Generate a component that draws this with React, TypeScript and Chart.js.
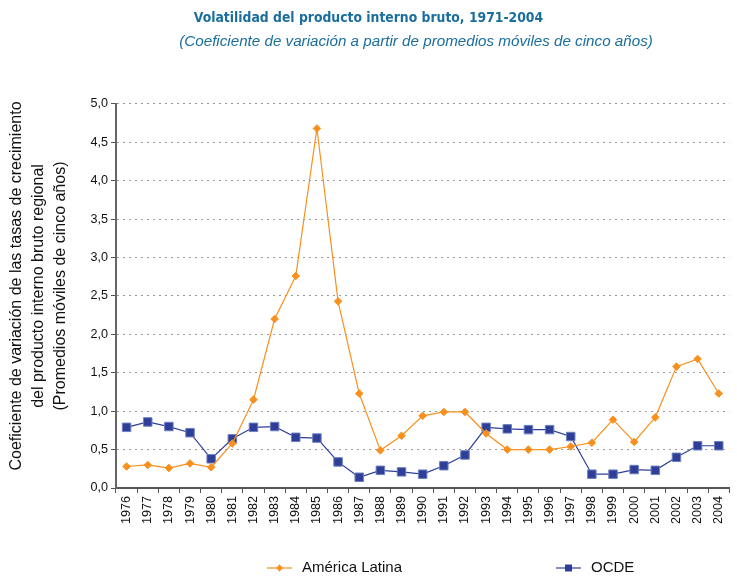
import React, { useEffect, useRef } from "react";
import { Chart, registerables } from "chart.js";

Chart.register(...registerables);

const years = [
  "1976", "1977", "1978", "1979", "1980", "1981", "1982", "1983", "1984", "1985",
  "1986", "1987", "1988", "1989", "1990", "1991", "1992", "1993", "1994", "1995",
  "1996", "1997", "1998", "1999", "2000", "2001", "2002", "2003", "2004",
];

const americaLatina = [
  0.28, 0.30, 0.26, 0.32, 0.27, 0.58, 1.15, 2.20, 2.76, 4.68,
  2.43, 1.23, 0.49, 0.68, 0.94, 0.99, 0.99, 0.71, 0.50, 0.50,
  0.50, 0.54, 0.59, 0.89, 0.60, 0.92, 1.58, 1.68, 1.23,
];

const ocde = [
  0.79, 0.86, 0.80, 0.72, 0.38, 0.64, 0.79, 0.80, 0.66, 0.65,
  0.34, 0.14, 0.23, 0.21, 0.18, 0.29, 0.43, 0.79, 0.77, 0.76,
  0.76, 0.67, 0.18, 0.18, 0.24, 0.23, 0.40, 0.55, 0.55,
];

const titleText = "Volatilidad del producto interno bruto, 1971-2004";
const subtitleText = "(Coeficiente de variación a partir de promedios móviles de cinco años)";
const yTitleLines = [
  "Coeficiente de variación de las tasas de crecimiento",
  "del producto interno bruto regional",
  "(Promedios móviles de cinco años)",
];

const ORANGE = "#F7901E";
const BLUE = "#2E3F98";
const TITLE_COLOR = "#1A6E9E";
const FONT = "'Liberation Sans', Arial, Helvetica, sans-serif";

const textPlugin = {
  id: "customTexts",
  afterDraw(chart: any) {
    const ctx = chart.ctx;
    ctx.save();
    // subtitle
    ctx.fillStyle = TITLE_COLOR;
    ctx.font = `italic 15.2px ${FONT}`;
    ctx.textAlign = "center";
    ctx.textBaseline = "middle";
    ctx.fillText(subtitleText, 416, 42);

    // y-axis title (three rotated lines)
    ctx.fillStyle = "#111";
    ctx.font = `16px ${FONT}`;
    const xs = [17, 39, 60.5];
    yTitleLines.forEach((line, i) => {
      ctx.save();
      ctx.translate(xs[i], 286);
      ctx.rotate(-Math.PI / 2);
      ctx.textAlign = "center";
      ctx.textBaseline = "middle";
      ctx.fillText(line, 0, 0);
      ctx.restore();
    });

    // legend
    const y = 568;
    const items = [
      { label: "América Latina", color: ORANGE, x0: 267, style: "rectRot", r: 3.5 },
      { label: "OCDE", color: BLUE, x0: 556, style: "rect", r: 5 },
    ];
    for (const it of items) {
      ctx.strokeStyle = it.color;
      ctx.lineWidth = 1.2;
      ctx.beginPath();
      ctx.moveTo(it.x0, y);
      ctx.lineTo(it.x0 + 25, y);
      ctx.stroke();
      ctx.fillStyle = it.color;
      const cx = it.x0 + 12.5;
      ctx.beginPath();
      if (it.style === "rect") {
        ctx.rect(cx - 3.5, y - 3.5, 7, 7);
      } else {
        ctx.moveTo(cx, y - it.r);
        ctx.lineTo(cx + it.r, y);
        ctx.lineTo(cx, y + it.r);
        ctx.lineTo(cx - it.r, y);
        ctx.closePath();
      }
      ctx.fill();
      ctx.fillStyle = "#111";
      ctx.font = `15px ${FONT}`;
      ctx.textBaseline = "middle";
      ctx.textAlign = "left";
      ctx.fillText(it.label, it.x0 + 35, y);
    }
    ctx.restore();
  },
};

export default function App() {
  const canvasRef = useRef<HTMLCanvasElement | null>(null);

  useEffect(() => {
    document.body.style.margin = "0";
    const canvas = canvasRef.current;
    if (!canvas) return;
    const chart = new Chart(canvas, {
      type: "line",
      data: {
        labels: years,
        datasets: [
          {
            label: "América Latina",
            data: americaLatina,
            borderColor: ORANGE,
            backgroundColor: ORANGE,
            borderWidth: 1.2,
            pointStyle: "rectRot",
            pointRadius: 3.8,
            pointBorderWidth: 1,
            pointBorderColor: ORANGE,
            pointBackgroundColor: ORANGE,
            tension: 0,
          },
          {
            label: "OCDE",
            data: ocde,
            borderColor: BLUE,
            backgroundColor: BLUE,
            borderWidth: 1.2,
            pointStyle: "rect",
            pointRadius: 6,
            pointBorderWidth: 1,
            pointBorderColor: "#6F7FC0",
            pointBackgroundColor: BLUE,
            tension: 0,
          },
        ],
      },
      options: {
        animation: false,
        responsive: true,
        maintainAspectRatio: false,
        layout: { padding: { left: 0, right: 0, top: 0, bottom: 0 } },
        plugins: {
          legend: { display: false },
          tooltip: { enabled: false },
          title: {
            display: true,
            text: titleText,
            color: TITLE_COLOR,
            font: { family: "'DejaVu Sans Condensed', 'Liberation Sans', Arial, sans-serif", size: 13.8, weight: "bold", lineHeight: 1.2 },
            padding: { top: 10, bottom: 77.4 },
          },
        },
        scales: {
          x: {
            type: "category",
            offset: true,
            afterFit(scale: any) {
              scale.height = 89;
            },
            border: { display: true, color: "#555", width: 2 },
            grid: {
              display: true,
              drawOnChartArea: false,
              drawTicks: true,
              offset: true,
              tickLength: 5,
              color: "#555",
            },
            ticks: {
              color: "#111",
              font: { family: FONT, size: 12.6 },
              minRotation: 90,
              maxRotation: 90,
              autoSkip: false,
              padding: 3,
            },
          },
          y: {
            min: 0,
            max: 5,
            afterFit(scale: any) {
              scale.width = 116;
            },
            border: { display: true, color: "#666", width: 2, dash: [2, 4] },
            grid: {
              color: "#999",
              lineWidth: 1,
              drawTicks: true,
              tickLength: 5,
              tickColor: "#555",
              tickBorderDash: [],
            },
            ticks: {
              stepSize: 0.5,
              color: "#111",
              font: { family: FONT, size: 12.6 },
              padding: 3,
              callback: (v: any) => Number(v).toFixed(1).replace(".", ","),
            },
          },
        },
      },
      plugins: [textPlugin],
    });
    return () => chart.destroy();
  }, []);

  return (
    <div style={{ position: "fixed", left: 0, top: 0, width: 737, height: 577 }}>
      <canvas ref={canvasRef} />
    </div>
  );
}
